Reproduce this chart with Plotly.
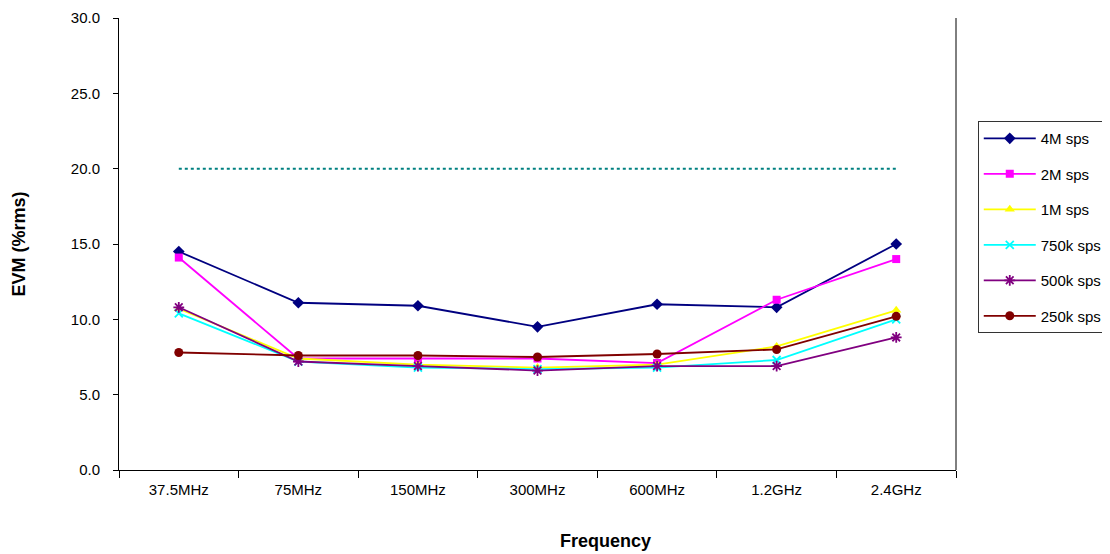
import plotly.graph_objects as go

categories = ["37.5MHz", "75MHz", "150MHz", "300MHz", "600MHz", "1.2GHz", "2.4GHz"]
s_4m = [14.5, 11.1, 10.9, 9.5, 11.0, 10.8, 15.0]
s_2m = [14.1, 7.4, 7.4, 7.4, 7.1, 11.3, 14.0]
s_1m = [10.7, 7.4, 7.0, 6.8, 7.0, 8.2, 10.6]
s_750k = [10.4, 7.2, 6.8, 6.7, 6.8, 7.3, 10.0]
s_500k = [10.8, 7.2, 6.9, 6.6, 6.9, 6.9, 8.8]
s_250k = [7.8, 7.6, 7.6, 7.5, 7.7, 8.0, 10.2]
limit = [20.0] * 7

series = [
    ("4M sps", s_4m, "#000080", "diamond", 9),
    ("2M sps", s_2m, "#FF00FF", "square", 8),
    ("1M sps", s_1m, "#FFFF00", "triangle-up", 9),
    ("750k sps", s_750k, "#00FFFF", "x-thin-open", 8),
    ("500k sps", s_500k, "#800080", "asterisk-open", 9),
    ("250k sps", s_250k, "#800000", "circle", 9),
]

fig = go.Figure()
fig.add_trace(go.Scatter(x=categories, y=limit, mode="lines",
                         line=dict(color="#008080", width=2, dash="dot"),
                         showlegend=False, hoverinfo="skip"))
for i, (name, vals, color, sym, size) in enumerate(series):
    mk = dict(symbol=sym, size=size, color=color)
    if sym.endswith("open"):
        mk["line"] = dict(color=color, width=1.8)
    fig.add_trace(go.Scatter(x=categories, y=vals, mode="lines+markers", name=name,
                             legendgroup=name,
                             line=dict(color=color, width=1.8), marker=mk))

fig.update_layout(
    width=1110, height=554,
    margin=dict(l=111, r=162, t=10, b=92, autoexpand=False),
    paper_bgcolor="white", plot_bgcolor="white",
    font=dict(family="Liberation Sans, Arial, sans-serif", size=15, color="black"),
    legend=dict(x=1.026, y=0.772, xanchor="left", yanchor="top",
                bordercolor="#333333", borderwidth=1, bgcolor="white",
                font=dict(size=15), tracegroupgap=13, itemwidth=52),
    showlegend=True,
)
fig.update_xaxes(
    type="category", range=[-0.5, 6.5], tickson="boundaries",
    ticks="outside", ticklen=7, tickcolor="black", ticklabelstandoff=6,
    showline=True, linecolor="black", linewidth=1, mirror=False,
    showgrid=False, zeroline=False,
)
fig.update_yaxes(
    range=[0, 30], dtick=5, tickformat=".1f",
    ticks="outside", ticklen=5, tickcolor="black", ticklabelstandoff=10,
    showline=True, linecolor="black", linewidth=1,
    showgrid=False, zeroline=False,
    title=dict(text="<b>EVM (%rms)</b>", font=dict(size=18), standoff=40),
)
fig.add_annotation(text="<b>Frequency</b>", xref="paper", yref="paper",
                   x=0.581, y=-0.157, xanchor="center", yanchor="middle",
                   showarrow=False, font=dict(size=18))
fig.add_shape(type="line", xref="paper", yref="paper", x0=1, x1=1, y0=0, y1=1,
              line=dict(color="black", width=1))

fig.write_html("out.html")
